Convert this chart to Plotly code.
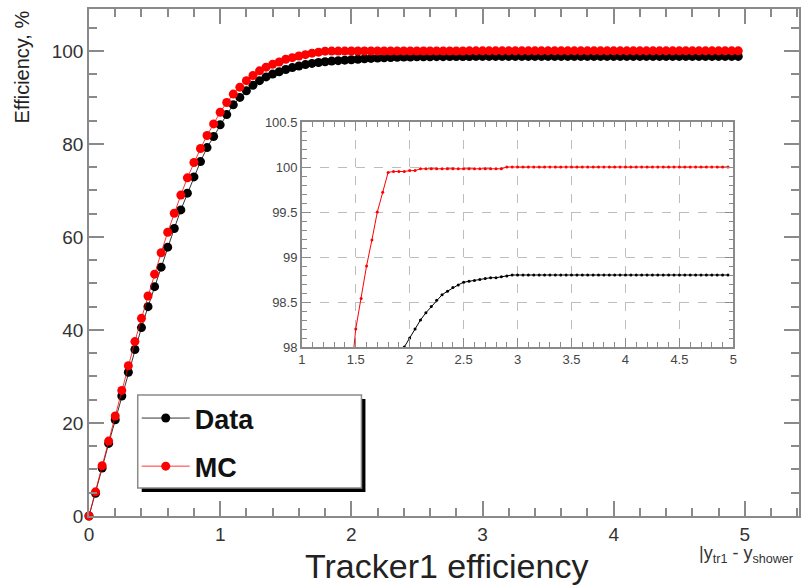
import plotly.graph_objects as go

# ---------------- data ----------------
x_vals = [0.00, 0.05, 0.10, 0.15, 0.20, 0.25, 0.30, 0.35, 0.40, 0.45,
          0.50, 0.55, 0.60, 0.65, 0.70, 0.75, 0.80, 0.85, 0.90, 0.95,
          1.00, 1.05, 1.10, 1.15, 1.20, 1.25, 1.30, 1.35, 1.40, 1.45,
          1.50, 1.55, 1.60, 1.65, 1.70, 1.75, 1.80, 1.85, 1.90, 1.95,
          2.00, 2.05, 2.10, 2.15, 2.20, 2.25, 2.30, 2.35, 2.40, 2.45,
          2.50, 2.55, 2.60, 2.65, 2.70, 2.75, 2.80, 2.85, 2.90, 2.95,
          3.00, 3.05, 3.10, 3.15, 3.20, 3.25, 3.30, 3.35, 3.40, 3.45,
          3.50, 3.55, 3.60, 3.65, 3.70, 3.75, 3.80, 3.85, 3.90, 3.95,
          4.00, 4.05, 4.10, 4.15, 4.20, 4.25, 4.30, 4.35, 4.40, 4.45,
          4.50, 4.55, 4.60, 4.65, 4.70, 4.75, 4.80, 4.85, 4.90, 4.95]

data_eff = [0.0, 4.9, 10.3, 15.6, 20.7, 25.8, 30.9, 35.8, 40.5, 45.0,
            49.3, 53.5, 57.8, 61.8, 65.8, 69.4, 72.9, 76.2, 79.2, 81.6,
            84.1, 86.3, 88.4, 90.0, 91.4, 92.6, 93.6, 94.4, 95.0, 95.5,
            96.0, 96.4, 96.75, 97.05, 97.3, 97.5, 97.65, 97.8, 97.9, 98.0,
            98.1, 98.2, 98.3, 98.38, 98.45, 98.52, 98.58, 98.62, 98.66, 98.69,
            98.72, 98.73, 98.74, 98.75, 98.76, 98.77, 98.77, 98.78, 98.79, 98.8,
            98.8, 98.8, 98.8, 98.8, 98.8, 98.8, 98.8, 98.8, 98.8, 98.8,
            98.8, 98.8, 98.8, 98.8, 98.8, 98.8, 98.8, 98.8, 98.8, 98.8,
            98.8, 98.8, 98.8, 98.8, 98.8, 98.8, 98.8, 98.8, 98.8, 98.8,
            98.8, 98.8, 98.8, 98.8, 98.8, 98.8, 98.8, 98.8, 98.8, 98.8]

mc_eff = [0.0, 5.2, 10.8, 16.1, 21.5, 27.0, 32.3, 37.5, 42.5, 47.3,
          52.0, 56.6, 61.0, 65.1, 69.0, 72.7, 76.0, 79.0, 81.8, 84.3,
          86.8, 88.9, 90.7, 92.2, 93.6, 94.7, 95.7, 96.5, 97.1, 97.6,
          98.2, 98.54, 98.9, 99.19, 99.5, 99.72, 99.94, 99.95, 99.95, 99.95,
          99.96, 99.96, 99.98, 99.98, 99.98, 99.98, 99.98, 99.98, 99.98, 99.98,
          99.98, 99.98, 99.98, 99.98, 99.98, 99.98, 99.98, 99.98, 100.0, 100.0,
          100.0, 100.0, 100.0, 100.0, 100.0, 100.0, 100.0, 100.0, 100.0, 100.0,
          100.0, 100.0, 100.0, 100.0, 100.0, 100.0, 100.0, 100.0, 100.0, 100.0,
          100.0, 100.0, 100.0, 100.0, 100.0, 100.0, 100.0, 100.0, 100.0, 100.0,
          100.0, 100.0, 100.0, 100.0, 100.0, 100.0, 100.0, 100.0, 100.0, 100.0]

series_names = ["Data", "MC"]
series_colors = ["#000000", "#ff0000"]

main_xticks = [0, 1, 2, 3, 4, 5]
main_yticks = [0, 20, 40, 60, 80, 100]
inset_xticks = [1, 1.5, 2, 2.5, 3, 3.5, 4, 4.5, 5]
inset_yticks = [98, 98.5, 99, 99.5, 100, 100.5]

# ---------------- figure ----------------
FONT = "Liberation Sans, Arial, Helvetica, sans-serif"
W, H = 804, 586
L, R, T, B = 89, 1, 9, 70
PW, PH = W - L - R, H - T - B


def px_x(p):
    return (p - L) / PW


def px_y(p):
    return (H - B - p) / PH


fig = go.Figure()

for name, col, ys in [(series_names[0], series_colors[0], data_eff),
                      (series_names[1], series_colors[1], mc_eff)]:
    fig.add_trace(go.Scatter(
        x=x_vals, y=ys, name=name, mode="lines+markers",
        line=dict(color=col, width=0.8),
        marker=dict(color=col, size=9, symbol="circle"),
        legendgroup=name, xaxis="x", yaxis="y", cliponaxis=False))

for name, col, ys in [(series_names[0], series_colors[0], data_eff),
                      (series_names[1], series_colors[1], mc_eff)]:
    fig.add_trace(go.Scatter(
        x=x_vals, y=ys, name=name, mode="lines+markers",
        line=dict(color=col, width=1),
        marker=dict(color=col, size=3, symbol="circle"),
        showlegend=False, xaxis="x2", yaxis="y2"))

axcol = "#8a8a8a"
fig.update_layout(
    width=W, height=H,
    margin=dict(l=L, r=R, t=T, b=B),
    paper_bgcolor="white", plot_bgcolor="white",
    font=dict(family=FONT, color="#333333"),
    xaxis=dict(range=[0, 5.413], tickvals=main_xticks, ticks="inside",
               ticklen=15, tickwidth=1.5, tickcolor=axcol,
               showline=True, linecolor=axcol, linewidth=1.5, mirror="ticks",
               showgrid=False, zeroline=False,
               tickfont=dict(size=19, color="#333333"),
               minor=dict(ticks="inside", dtick=0.2, ticklen=8,
                          tickcolor=axcol, tickwidth=1.5, showgrid=False)),
    yaxis=dict(range=[0, 109.0], tickvals=main_yticks, ticks="inside",
               ticklen=15, tickwidth=1.5, tickcolor=axcol,
               showline=True, linecolor=axcol, linewidth=1.5, mirror="ticks",
               showgrid=False, zeroline=False,
               tickfont=dict(size=19, color="#333333"),
               minor=dict(ticks="inside", dtick=5, ticklen=8,
                          tickcolor=axcol, tickwidth=1.5, showgrid=False)),
    xaxis2=dict(domain=[px_x(303), px_x(737)], anchor="y2",
                range=[1, 5], tickvals=inset_xticks,
                ticktext=[f"{v:g}" for v in inset_xticks],
                ticks="inside", ticklen=9, tickcolor=axcol, tickwidth=1,
                showline=True, linecolor=axcol, linewidth=1.5, mirror="ticks",
                showgrid=True, gridcolor="#bdbdbd", griddash="dash",
                gridwidth=1, zeroline=False,
                tickfont=dict(size=13, color="#444444"),
                minor=dict(ticks="inside", dtick=0.1, ticklen=5,
                           tickcolor=axcol, tickwidth=1, showgrid=False)),
    yaxis2=dict(domain=[px_y(347), px_y(122)], anchor="x2",
                range=[98, 100.5], tickvals=inset_yticks,
                ticktext=[f"{v:g}" for v in inset_yticks],
                ticks="inside", ticklen=9, tickcolor=axcol, tickwidth=1,
                showline=True, linecolor=axcol, linewidth=1.5, mirror="ticks",
                showgrid=True, gridcolor="#bdbdbd", griddash="dash",
                gridwidth=1, zeroline=False,
                tickfont=dict(size=13, color="#444444"),
                minor=dict(ticks="inside", dtick=0.1, ticklen=5,
                           tickcolor=axcol, tickwidth=1, showgrid=False)),
    legend=dict(x=px_x(137), y=px_y(394), xanchor="left", yanchor="top",
                bgcolor="rgba(0,0,0,0)", borderwidth=0,
                font=dict(family=FONT, size=27, color="#111111", weight="bold"),
                tracegroupgap=10, itemsizing="trace", itemwidth=48),
    showlegend=True,
)

# legend frame with shadow
fig.add_shape(type="rect", xref="paper", yref="paper",
              x0=px_x(142), x1=px_x(367), y0=px_y(492), y1=px_y(399),
              fillcolor="black", line=dict(width=0), layer="above")
fig.add_shape(type="rect", xref="paper", yref="paper",
              x0=px_x(138), x1=px_x(363), y0=px_y(488), y1=px_y(395),
              fillcolor="white", line=dict(color=axcol, width=1.5), layer="above")

# axis titles
fig.add_annotation(text="Tracker1 efficiency", xref="paper", yref="paper",
                   x=px_x(449), y=px_y(566), xanchor="center", yanchor="middle",
                   showarrow=False, font=dict(family=FONT, size=34, color="#222222"))
fig.add_annotation(text="Efficiency, %", xref="paper", yref="paper",
                   x=px_x(22), y=px_y(67), xanchor="center", yanchor="middle",
                   textangle=-90, showarrow=False,
                   font=dict(family=FONT, size=20, color="#222222"))
fig.add_annotation(text="|y<sub>tr1</sub> - y<sub>shower</sub>", xref="paper", yref="paper",
                   x=px_x(700), y=px_y(554), xanchor="left", yanchor="middle",
                   showarrow=False, font=dict(family=FONT, size=18, color="#333333"))

fig.write_html("out.html",
               config={"displayModeBar": False},
               post_script="document.body.style.margin='0';document.body.style.overflow='hidden';")
